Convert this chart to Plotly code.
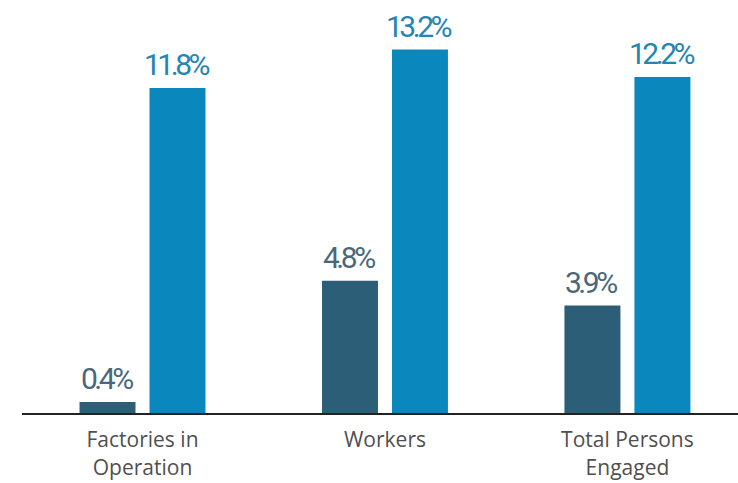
import plotly.graph_objects as go

categories = ["Factories in<br>Operation", "Workers", "Total Persons<br>Engaged"]
series_a = [0.4, 4.8, 3.9]
series_b = [11.8, 13.2, 12.2]
labels_a = ["0.4%", "4.8%", "3.9%"]
labels_b = ["11.8%", "13.2%", "12.2%"]

dark = "#2C5E77"
blue = "#0A88BE"

fig = go.Figure()
fig.add_bar(x=categories, y=series_a, marker_color=dark, marker_line_width=0, name="A")
fig.add_bar(x=categories, y=series_b, marker_color=blue, marker_line_width=0, name="B")

num_font = "Roboto, sans-serif"
tight = "letter-spacing:-3.5px"
for cat, v, t in zip(categories, series_a, labels_a):
    fig.add_annotation(x=cat, y=v, text=f'<span style="{tight}">{t}</span>', showarrow=False,
                       xshift=-36, yshift=4, yanchor="bottom",
                       font=dict(family=num_font, size=30, color="#4A6879"))
for cat, v, t in zip(categories, series_b, labels_b):
    fig.add_annotation(x=cat, y=v, text=f'<span style="{tight}">{t}</span>', showarrow=False,
                       xshift=34, yshift=4, yanchor="bottom",
                       font=dict(family=num_font, size=30, color="#2385B3"))

fig.update_layout(
    width=738, height=483,
    margin=dict(l=22, r=0, t=0, b=70),
    paper_bgcolor="white", plot_bgcolor="white",
    barmode="group", bargap=0.4227, bargroupgap=0.2,
    showlegend=False,
    xaxis=dict(range=[-0.497, 2.456], showline=True, linecolor="#222222", linewidth=2,
               showgrid=False, ticks="", ticklabelstandoff=7,
               tickfont=dict(family="Open Sans, sans-serif", size=21, color="#4F4F4F")),
    yaxis=dict(range=[0, 15], visible=False, showgrid=False, zeroline=False),
)

fig.write_html("out.html")
